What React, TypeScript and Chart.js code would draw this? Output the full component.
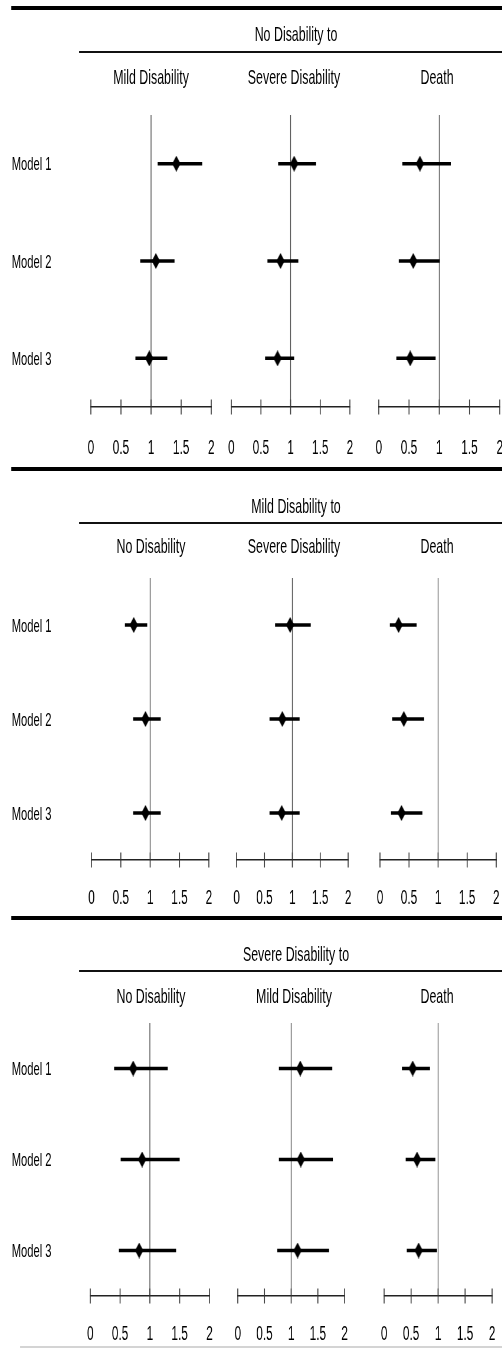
import React, { useEffect, useRef } from "react";
import { Chart, registerables } from "chart.js";

Chart.register(...registerables);

// ---------------- data ----------------
const PANEL_TITLES = ["No Disability to", "Mild Disability to", "Severe Disability to"];
const DESTINATIONS = [
  ["Mild Disability", "Severe Disability", "Death"],
  ["No Disability", "Severe Disability", "Death"],
  ["No Disability", "Mild Disability", "Death"],
];
const MODELS = ["Model 1", "Model 2", "Model 3"];
const TICKS = [0, 0.5, 1, 1.5, 2];
const TICK_LABELS = ["0", "0.5", "1", "1.5", "2"];
const REFERENCE = 1;

// [destination][model]
const FROM_NO_EST = [[1.42, 1.08, 0.97], [1.06, 0.83, 0.78], [0.68, 0.57, 0.52]];
const FROM_NO_LO = [[1.11, 0.82, 0.74], [0.79, 0.61, 0.57], [0.39, 0.33, 0.29]];
const FROM_NO_HI = [[1.85, 1.39, 1.27], [1.43, 1.13, 1.06], [1.19, 1.01, 0.94]];

const FROM_MILD_EST = [[0.72, 0.92, 0.92], [0.96, 0.82, 0.81], [0.32, 0.41, 0.37]];
const FROM_MILD_LO = [[0.57, 0.71, 0.71], [0.69, 0.59, 0.59], [0.17, 0.21, 0.19]];
const FROM_MILD_HI = [[0.95, 1.18, 1.18], [1.33, 1.13, 1.13], [0.63, 0.76, 0.73]];

const FROM_SEVERE_EST = [[0.72, 0.87, 0.82], [1.17, 1.18, 1.12], [0.53, 0.61, 0.64]];
const FROM_SEVERE_LO = [[0.40, 0.51, 0.48], [0.77, 0.77, 0.74], [0.33, 0.40, 0.42]];
const FROM_SEVERE_HI = [[1.30, 1.50, 1.44], [1.77, 1.78, 1.71], [0.85, 0.95, 0.98]];

const PANEL_DATA = [
  { est: FROM_NO_EST, lo: FROM_NO_LO, hi: FROM_NO_HI },
  { est: FROM_MILD_EST, lo: FROM_MILD_LO, hi: FROM_MILD_HI },
  { est: FROM_SEVERE_EST, lo: FROM_SEVERE_LO, hi: FROM_SEVERE_HI },
];

// ---------------- layout ----------------
const SX = 0.59; // horizontal compression of the whole figure
const U = (x: number) => x / SX;
const FONT = '"Liberation Sans", Arial, Helvetica, sans-serif';

const LAYOUT = [
  { rule: 8, title: 33, line: 52, sub: 76, top: 115, axis: 407, tickPad: 29, cols: [[90.7, 211], [231.3, 349.7], [379, 500]] },
  { rule: 469, title: 505, line: 523, sub: 545, top: 578, axis: 860, tickPad: 26, cols: [[91.7, 209.3], [236.7, 348], [379.7, 495.7]] },
  { rule: 918, title: 953, line: 971, sub: 995, top: 1023, axis: 1296, tickPad: 26, cols: [[90, 209], [237.7, 344.3], [384, 491.7]] },
];
const SUB_CENTERS = [151, 294, 437];
const TITLE_CENTER = 296;

let diamondCache: HTMLCanvasElement | null = null;
function getDiamond() {
  if (diamondCache) return diamondCache;
  const c = document.createElement("canvas");
  const w = 14, h = 16;
  c.width = w;
  c.height = h;
  const g = c.getContext("2d")!;
  g.fillStyle = "#000";
  g.beginPath();
  g.moveTo(w / 2, 0);
  g.lineTo(w, h / 2);
  g.lineTo(w / 2, h);
  g.lineTo(0, h / 2);
  g.closePath();
  g.fill();
  diamondCache = c;
  return c;
}

function Forest({ p, col }: { p: number; col: number }) {
  const ref = useRef<HTMLCanvasElement>(null);
  const lay = LAYOUT[p];
  const [x0, x2] = lay.cols[col];
  const PADX = 50;
  const PADT = 12;
  const areaW = Math.round(U(x2 - x0));
  const areaH = lay.axis - lay.top;
  const axisH = 2 * lay.tickPad + 24;
  const W = areaW + 2 * PADX;
  const H = PADT + areaH + axisH;
  const left = U(x0) - PADX;
  const top = lay.top - PADT;

  useEffect(() => {
    const d = PANEL_DATA[p];
    const est = d.est[col];
    const lo = d.lo[col];
    const hi = d.hi[col];
    const datasets: any[] = [];
    datasets.push({
      data: est.map((v, i) => ({ x: v, y: i + 1 })),
      showLine: false,
      pointStyle: getDiamond(),
      pointRadius: 8,
      backgroundColor: "#000",
      borderColor: "#000",
    });
    MODELS.forEach((_, i) => {
      datasets.push({
        data: [
          { x: lo[i], y: i + 1 },
          { x: hi[i], y: i + 1 },
        ],
        showLine: true,
        borderColor: "#000",
        borderWidth: 3.5,
        pointRadius: 0,
      });
    });
    datasets.push({
      data: TICKS.map((t) => ({ x: t, y: MODELS.length + 0.5 })),
      showLine: false,
      pointStyle: "line",
      rotation: 90,
      pointRadius: 7.5,
      pointBorderWidth: 1.6,
      borderColor: "#333",
      pointBorderColor: "#333",
      clip: false,
    });
    datasets.push({
      data: [
        { x: REFERENCE, y: 0.5 },
        { x: REFERENCE, y: MODELS.length + 0.5 },
      ],
      showLine: true,
      borderColor: "#444",
      borderWidth: 1.3,
      pointRadius: 0,
    });

    const chart = new Chart(ref.current!, {
      type: "scatter",
      data: { datasets },
      options: {
        responsive: false,
        animation: false,
        devicePixelRatio: 1,
        events: [],
        layout: { padding: { left: PADX, right: PADX, top: PADT, bottom: 0 } },
        plugins: { legend: { display: false }, tooltip: { enabled: false }, title: { display: false } },
        scales: {
          x: {
            type: "linear",
            min: TICKS[0],
            max: TICKS[TICKS.length - 1],
            afterBuildTicks: (scale: any) => {
              scale.ticks = TICKS.map((v) => ({ value: v }));
            },
            grid: { display: false, drawTicks: false },
            border: { display: true, color: "#222", width: 1.6 },
            ticks: {
              padding: lay.tickPad,
              color: "#000",
              font: { family: FONT, size: 20 },
              maxRotation: 0,
              autoSkip: false,
              callback: (_v: any, idx: number) => TICK_LABELS[idx],
            },
          },
          y: {
            type: "linear",
            min: 0.5,
            max: MODELS.length + 0.5,
            reverse: true,
            display: false,
          },
        },
      } as any,
    });
    return () => chart.destroy();
  }, [p, col]);

  return (
    <canvas
      ref={ref}
      width={W}
      height={H}
      style={{ position: "absolute", left, top, width: W, height: H }}
    />
  );
}

function CenterText({ cx, cy, size, children }: any) {
  return (
    <div
      style={{
        position: "absolute",
        left: U(cx) - 300,
        width: 600,
        top: cy - 0.4885 * size,
        fontSize: size,
        lineHeight: `${size}px`,
        textAlign: "center",
        whiteSpace: "nowrap",
      }}
    >
      {children}
    </div>
  );
}

export default function App() {
  return (
    <div style={{ position: "absolute", left: 0, top: 0, width: 502, height: 1349, overflow: "hidden", background: "#fff" }}>
      <div
        style={{
          position: "absolute",
          left: 0,
          top: 0,
          width: U(502),
          height: 1349,
          transform: `scaleX(${SX})`,
          transformOrigin: "0 0",
          fontFamily: FONT,
          color: "#000",
        }}
      >
        {LAYOUT.map((lay, p) => {
          const step = (lay.axis - lay.top) / MODELS.length;
          return (
            <React.Fragment key={p}>
              <div style={{ position: "absolute", left: U(11), top: lay.rule - 2, width: U(502) - U(11), height: 4, background: "#000" }} />
              <CenterText cx={TITLE_CENTER} cy={lay.title} size={21}>
                {PANEL_TITLES[p]}
              </CenterText>
              <div style={{ position: "absolute", left: U(79), top: lay.line - 1, width: U(502) - U(79), height: 2, background: "#111" }} />
              {DESTINATIONS[p].map((d, c) => (
                <CenterText key={c} cx={SUB_CENTERS[c]} cy={lay.sub} size={21}>
                  {d}
                </CenterText>
              ))}
              {MODELS.map((m, i) => (
                <div
                  key={m}
                  style={{
                    position: "absolute",
                    left: U(11.7),
                    top: lay.top + (i + 0.5) * step - 0.4885 * 19,
                    fontSize: 19,
                    lineHeight: "19px",
                    whiteSpace: "nowrap",
                  }}
                >
                  {m}
                </div>
              ))}
              {[0, 1, 2].map((c) => (
                <Forest key={c} p={p} col={c} />
              ))}
            </React.Fragment>
          );
        })}
        <div style={{ position: "absolute", left: U(20), top: 1346, width: U(482), height: 2, background: "#d4d4d4" }} />
      </div>
    </div>
  );
}
